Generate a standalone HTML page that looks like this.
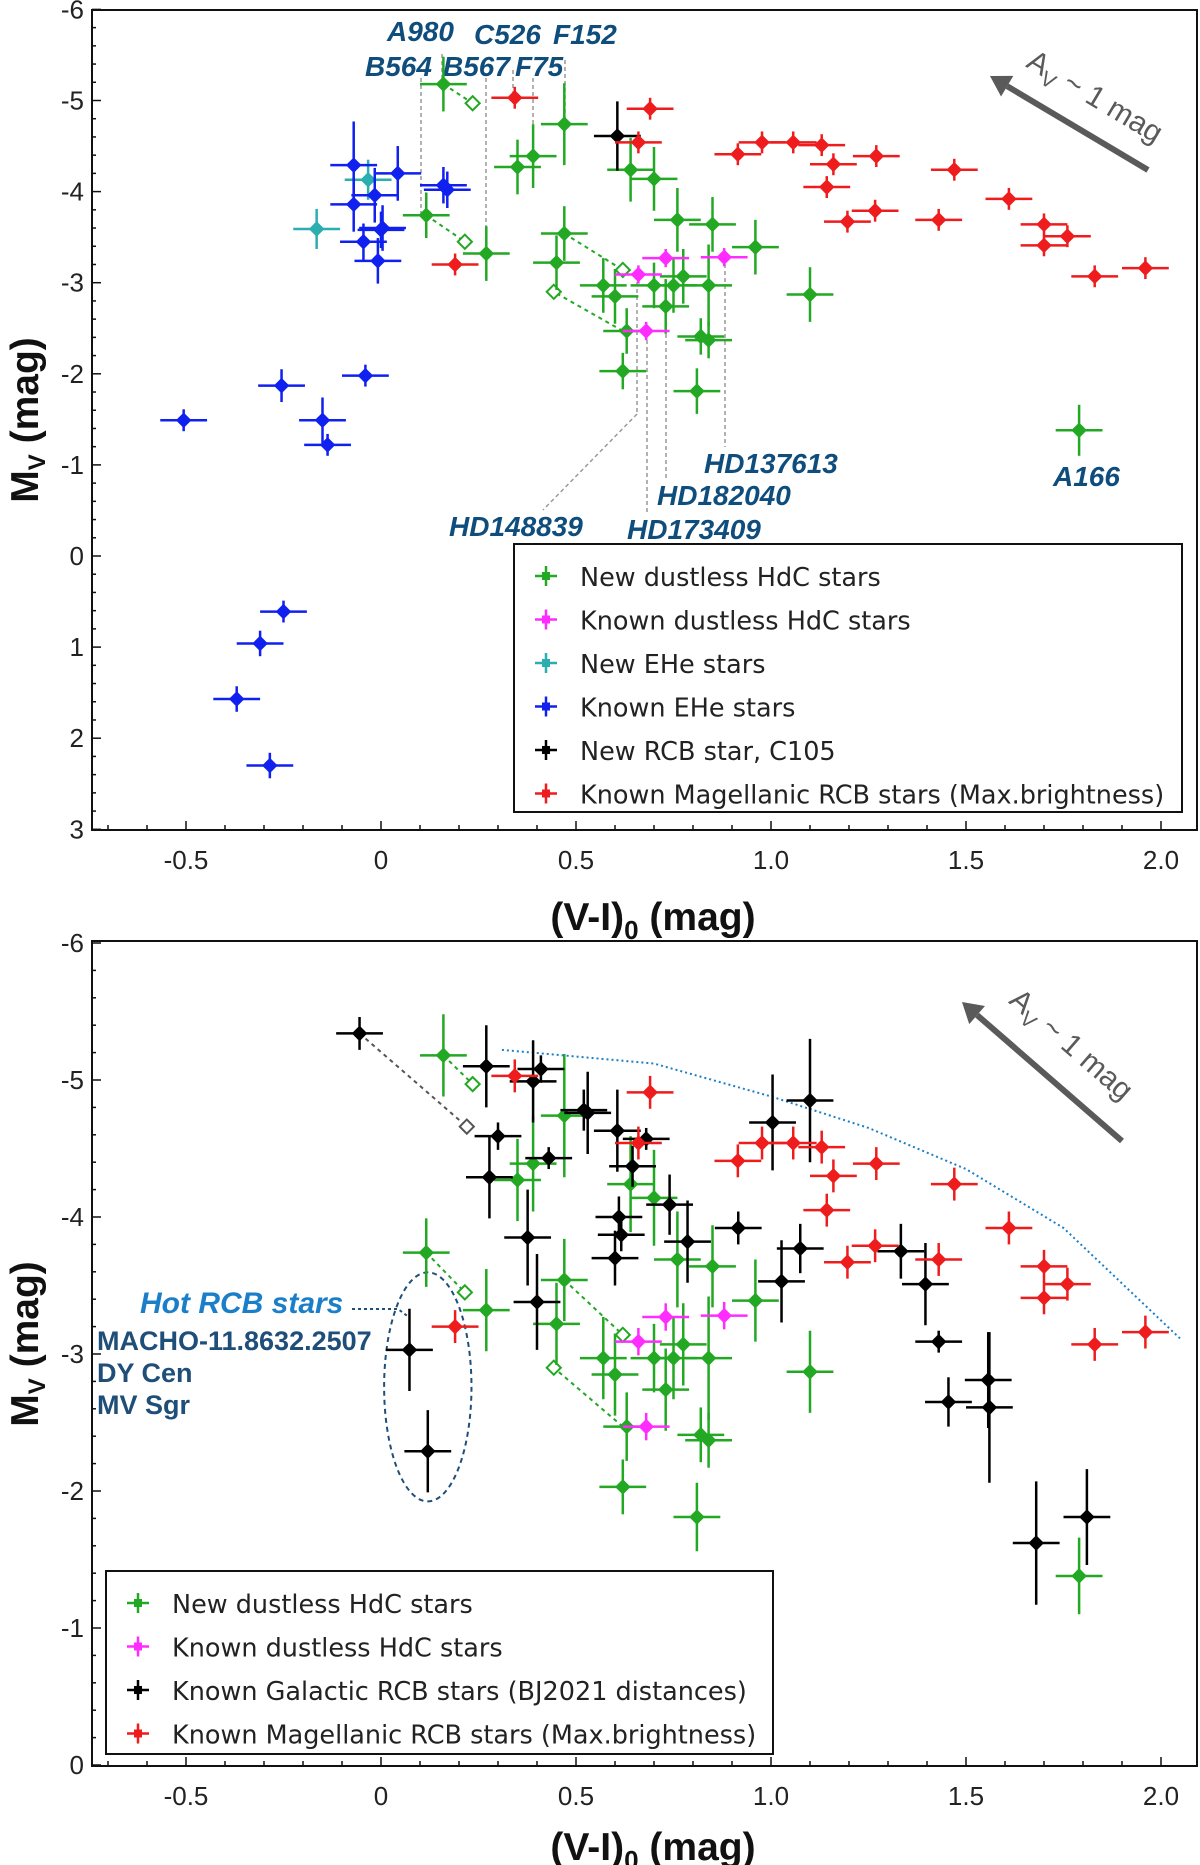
<!DOCTYPE html>
<html><head><meta charset="utf-8">
<style>
html,body{margin:0;padding:0;background:#fff;}
svg{display:block;font-family:"Liberation Sans","DejaVu Sans",sans-serif;}
.tick{font-size:26px;fill:#222;}
.lab{font-size:28px;font-weight:bold;font-style:italic;fill:#0f4d7c;}
.leg{font-size:25.5px;fill:#222;font-family:"DejaVu Sans","Liberation Sans",sans-serif;}
.ttl{font-size:39px;font-weight:bold;fill:#111;}
</style></head>
<body>
<svg id="chart" width="1200" height="1865" viewBox="0 0 1200 1865"></svg>
<script>
// ---- data ----
const greenX=[0.16,0.116,0.27,0.35,0.39,0.47,0.47,0.45,0.64,0.70,0.76,0.85,0.96,0.57,0.60,0.70,0.75,0.775,0.73,0.84,0.63,0.82,0.84,0.62,0.81,1.10,1.79];
const greenY=[-5.18,-3.74,-3.32,-4.27,-4.39,-4.74,-3.54,-3.22,-4.24,-4.14,-3.69,-3.64,-3.39,-2.97,-2.85,-2.97,-2.97,-3.07,-2.74,-2.97,-2.47,-2.41,-2.37,-2.03,-1.81,-2.87,-1.38];
const greenYErr=[0.3,0.25,0.3,0.3,0.35,0.45,0.3,0.3,0.35,0.35,0.35,0.3,0.3,0.3,0.3,0.25,0.3,0.3,0.3,0.45,0.25,0.2,0.2,0.2,0.25,0.3,0.28];
const magX=[0.66,0.73,0.88,0.68];
const magY=[-3.09,-3.27,-3.28,-2.47];
const cyanX=[-0.165,-0.033];
const cyanY=[-3.59,-4.13];
const blueX=[-0.07,-0.016,-0.07,0.043,0.16,0.17,0.004,0.0,-0.045,-0.008,-0.255,-0.04,-0.506,-0.15,-0.137,-0.25,-0.31,-0.37,-0.285];
const blueY=[-4.29,-3.96,-3.86,-4.20,-4.07,-4.02,-3.6,-3.58,-3.45,-3.24,-1.87,-1.98,-1.49,-1.49,-1.22,0.61,0.96,1.57,2.30];
const blueYErr=[0.48,0.3,0.3,0.3,0.2,0.2,0.25,0.2,0.2,0.25,0.18,0.12,0.12,0.25,0.12,0.12,0.14,0.14,0.14];
const c105X=[0.606];
const c105Y=[-4.61];
const redX=[0.343,0.69,0.66,0.915,0.977,1.057,1.13,1.16,1.143,1.27,1.47,1.196,1.267,1.43,1.61,1.70,1.70,1.76,1.83,1.96,0.19];
const redY=[-5.03,-4.91,-4.54,-4.41,-4.54,-4.54,-4.51,-4.30,-4.05,-4.39,-4.24,-3.67,-3.79,-3.69,-3.92,-3.64,-3.41,-3.51,-3.07,-3.16,-3.20];
const galX=[-0.055,0.27,0.39,0.41,0.52,0.53,0.606,0.68,0.645,0.30,0.43,0.278,0.74,0.61,0.616,0.376,0.60,0.786,0.916,1.075,1.004,1.10,1.027,1.333,1.396,1.43,1.455,1.557,1.56,0.40,0.073,0.12,1.68,1.81];
const galY=[-5.34,-5.10,-4.99,-5.08,-4.78,-4.76,-4.63,-4.57,-4.37,-4.59,-4.43,-4.29,-4.09,-4.00,-3.87,-3.85,-3.70,-3.82,-3.92,-3.77,-4.69,-4.85,-3.53,-3.75,-3.51,-3.09,-2.65,-2.81,-2.61,-3.38,-3.03,-2.29,-1.62,-1.81];
const galYErr=[0.12,0.3,0.3,0.1,0.15,0.3,0.3,0.08,0.15,0.1,0.08,0.3,0.22,0.15,0.12,0.35,0.2,0.3,0.12,0.18,0.35,0.45,0.3,0.2,0.3,0.08,0.18,0.35,0.55,0.35,0.3,0.3,0.45,0.35];
const linkFromX=[0.16,0.116,0.47,0.62];
const linkFromY=[-5.18,-3.74,-3.54,-2.47];
const linkToX=[0.235,0.215,0.62,0.443];
const linkToY=[-4.97,-3.45,-3.14,-2.90];
const curveX=[0.31,0.7,1.0,1.25,1.5,1.75,2.05];
const curveY=[-5.22,-5.12,-4.88,-4.65,-4.35,-3.92,-3.11];
const xTicks=[-0.5,0,0.5,1.0,1.5,2.0];
const xTickLabels=["-0.5","0","0.5","1.0","1.5","2.0"];
const yTicksTop=[-6,-5,-4,-3,-2,-1,0,1,2,3];
const yTicksBot=[-6,-5,-4,-3,-2,-1,0];

const C={green:"#22a822",mag:"#ff2cff",cyan:"#2aaeb0",blue:"#1020ee",black:"#000",red:"#ee1c1c"};
const svgRoot=document.getElementById('chart');
const NS="http://www.w3.org/2000/svg";
function mk(tag,attrs,parent){const e=document.createElementNS(NS,tag);for(const k in attrs)e.setAttribute(k,attrs[k]);(parent||svgRoot).appendChild(e);return e;}
function txt(e,parts){parts.forEach(p=>{const t=document.createElementNS(NS,'tspan');if(p.fs)t.setAttribute('font-size',p.fs);if(p.dy)t.setAttribute('dy',p.dy);t.textContent=p.t;e.appendChild(t);});}

function makePanel(p){
  const g=mk('g',{});
  
  
  const X=v=>381+390*v, Y=v=>p.y0+p.k*v;
  const fr=mk('rect',{x:92,y:p.top,width:1105,height:p.bot-p.top,fill:'none',stroke:'#111','stroke-width':2},g);
  
  
  for(let i=-7;i<=20;i++){const v=i/10;const x=X(v);const major=(i%5===0);
    mk('line',{x1:x,x2:x,y1:p.bot,y2:p.bot-(major?9:5),stroke:'#111','stroke-width':1.5},g);}
  xTicks.forEach((v,i)=>{const t=mk('text',{x:X(v),y:p.bot+39,'text-anchor':'middle',class:'tick'},g);t.textContent=xTickLabels[i];
    
    });
  const ymin=p.yt[0],ymax=p.yt[p.yt.length-1];
  for(let i=ymin*5;i<=ymax*5;i++){const y=Y(i/5);const major=(i%5===0);
    mk('line',{x1:92,x2:92+(major?9:4),y1:y,y2:y,stroke:'#111','stroke-width':1.5},g);}
  p.yt.forEach(v=>{const t=mk('text',{x:84,y:Y(v)+9,'text-anchor':'end',class:'tick'},g);t.textContent=String(v);
    
    });
  const xt=mk('text',{x:653,y:p.bot+p.xtOff,'text-anchor':'middle',class:'ttl'},g);
  txt(xt,[{t:'(V-I)'},{t:'0',fs:26,dy:9},{t:' (mag)',dy:-9}]);
  
  
  const yt=mk('text',{x:0,y:0,'text-anchor':'middle',class:'ttl',transform:`translate(38,${p.ylabY}) rotate(-90)`},g);
  txt(yt,[{t:'M'},{t:'V',fs:24,dy:7},{t:' (mag)',dy:-7}]);
  
  
  for(let i=0;i<linkFromX.length;i++){
    const l=mk('line',{x1:X(linkFromX[i]),y1:Y(linkFromY[i]),x2:X(linkToX[i]),y2:Y(linkToY[i]),stroke:C.green,'stroke-width':2,'stroke-dasharray':'4,4'},g);
    
    
    const cx=X(linkToX[i]),cy=Y(linkToY[i]);
    const d=mk('rect',{x:cx-5,y:cy-5,width:10,height:10,fill:'#fff',stroke:C.green,'stroke-width':2,transform:`rotate(45 ${cx} ${cy})`},g);
    
    
  }
  if(p.extra)p.extra(g,X,Y);
  p.series.forEach(s=>{
    for(let i=0;i<s.x.length;i++){
      const cx=X(s.x[i]),cy=Y(s.y[i]);const ye=(s.ye?s.ye[i]:s.yeC)*p.k;const xe=0.06*390;
      const pt=mk('g',{},g);
      
      
      mk('line',{x1:cx-xe,x2:cx+xe,y1:cy,y2:cy,stroke:s.c,'stroke-width':2.5},pt);
      mk('line',{x1:cx,x2:cx,y1:cy-ye,y2:cy+ye,stroke:s.c,'stroke-width':2.5},pt);
      mk('rect',{x:cx-5.5,y:cy-5.5,width:11,height:11,fill:s.c,transform:`rotate(45 ${cx} ${cy})`},pt);
    }
  });
  const lg=mk('g',{},g);
  
  
  mk('rect',{x:p.leg.x,y:p.leg.y,width:p.leg.w,height:p.leg.h,fill:'#fff',stroke:'#111','stroke-width':2},lg);
  p.leg.items.forEach((it,i)=>{
    const y=p.leg.r0+i*p.leg.dr, mx=p.leg.x+32;
    const e=mk('g',{},lg);
    
    
    mk('line',{x1:mx-11,x2:mx+11,y1:y,y2:y,stroke:it[1],'stroke-width':2.5},e);
    mk('line',{x1:mx,x2:mx,y1:y-10,y2:y+10,stroke:it[1],'stroke-width':2.5},e);
    mk('rect',{x:mx-4,y:y-4,width:8,height:8,fill:it[1]},e);
    const t=mk('text',{x:mx+34,y:y+10,class:'leg'},e);t.textContent=it[0];
  });
  const a=p.arrow;
  const ar=mk('g',{},g);
  
  
  const ang=Math.atan2(a.y1-a.y2,a.x1-a.x2);
  const hx=a.x2+20*Math.cos(ang),hy=a.y2+20*Math.sin(ang);
  mk('line',{x1:a.x1,y1:a.y1,x2:hx,y2:hy,stroke:'#5a5a5a','stroke-width':6},ar);
  const px=-Math.sin(ang)*12,py=Math.cos(ang)*12;
  mk('polygon',{points:`${a.x2},${a.y2} ${hx+px},${hy+py} ${hx-px},${hy-py}`,fill:'#5a5a5a'},ar);
  const deg=ang*180/Math.PI;
  const at=mk('text',{x:0,y:0,'font-size':30,fill:'#5a5a5a','text-anchor':'middle',transform:`translate(${a.tx},${a.ty}) rotate(${deg})`},ar);
  txt(at,[{t:'A'},{t:'V',fs:21,dy:7},{t:' ~ 1 mag',dy:-7}]);
}

makePanel({name:'top-panel',top:10,bot:830,y0:556,k:91.1,yt:yTicksTop,ylabY:420,xtOff:100,
  series:[{name:'new-ehe',x:cyanX,y:cyanY,c:C.cyan,yeC:0.22},
          {name:'known-ehe',x:blueX,y:blueY,c:C.blue,ye:blueYErr},
          {name:'new-dustless-hdc',x:greenX,y:greenY,c:C.green,ye:greenYErr},
          {name:'known-dustless-hdc',x:magX,y:magY,c:C.mag,yeC:0.1},
          {name:'new-rcb-c105',x:c105X,y:c105Y,c:C.black,yeC:0.38},
          {name:'magellanic-rcb',x:redX,y:redY,c:C.red,yeC:0.12}],
  leg:{x:514,y:544,w:668,h:268,r0:576,dr:43.5,items:[["New dustless HdC stars",C.green],["Known dustless HdC stars",C.mag],["New EHe stars",C.cyan],["Known EHe stars",C.blue],["New RCB star, C105",C.black],["Known Magellanic RCB stars (Max.brightness)",C.red]]},
  arrow:{x1:1148,y1:170,x2:990,y2:76,tx:1090,ty:105},
  extra:(g)=>{
    const L=[[442,54,442,84],[421,78,421,216],[486,78,486,252],[513,70,513,96],[533,78,533,156],[565,60,565,120],
             [725,257,725,447],[666,306,666,480],[647,333,647,513],[637,275,637,414],[637,414,543,510]];
    L.forEach(l=>{const e=mk('line',{x1:l[0],y1:l[1],x2:l[2],y2:l[3],stroke:'#999','stroke-width':1.5,'stroke-dasharray':'4,3'},g);
      
      });
    const T=[["A980",387,41],["C526",474,44],["F152",553,44],["B564",365,76],["B567",443,76],["F75",515,76],
             ["HD137613",704,473],["HD182040",657,505],["HD148839",449,536],["HD173409",627,539],["A166",1053,486]];
    T.forEach(t=>{const e=mk('text',{x:t[1],y:t[2],class:'lab'},g);e.textContent=t[0];
      
      });
  }});

makePanel({name:'bottom-panel',top:941,bot:1766,y0:1765,k:137,yt:yTicksBot,ylabY:1344,xtOff:94,
  series:[{name:'new-dustless-hdc',x:greenX,y:greenY,c:C.green,ye:greenYErr},
          {name:'known-dustless-hdc',x:magX,y:magY,c:C.mag,yeC:0.1},
          {name:'galactic-rcb',x:galX,y:galY,c:C.black,ye:galYErr},
          {name:'magellanic-rcb',x:redX,y:redY,c:C.red,yeC:0.12}],
  leg:{x:106,y:1571,w:667,h:183,r0:1603,dr:43.5,items:[["New dustless HdC stars",C.green],["Known dustless HdC stars",C.mag],["Known Galactic RCB stars (BJ2021 distances)",C.black],["Known Magellanic RCB stars (Max.brightness)",C.red]]},
  arrow:{x1:1122,y1:1141,x2:962,y2:1002,tx:1065,ty:1052},
  extra:(g,X,Y)=>{
    const l=mk('line',{x1:X(-0.055),y1:Y(-5.34),x2:X(0.22),y2:Y(-4.66),stroke:'#555','stroke-width':2,'stroke-dasharray':'4,4'},g);
    
    
    const cx=X(0.22),cy=Y(-4.66);
    mk('rect',{x:cx-5,y:cy-5,width:10,height:10,fill:'#fff',stroke:'#555','stroke-width':2,transform:`rotate(45 ${cx} ${cy})`},g);
    let d='';curveX.forEach((v,i)=>{d+=(i?'L':'M')+X(v)+','+Y(curveY[i]);});
    const c=mk('path',{d:d,fill:'none',stroke:'#1a7fc8','stroke-width':2,'stroke-dasharray':'2,3'},g);
    
    
    const el=mk('ellipse',{cx:X(0.12),cy:Y(-2.76),rx:0.112*390,ry:0.836*137,fill:'none',stroke:'#1f4e79','stroke-width':2,'stroke-dasharray':'5,4'},g);
    
    
    mk('path',{d:'M352,1309 L398,1309 L410,1318',fill:'none',stroke:'#1f4e79','stroke-width':2,'stroke-dasharray':'3,3'},g);
    const h=mk('text',{x:140,y:1313,'font-size':30,'font-weight':'bold','font-style':'italic',fill:'#1a7fc8'},g);h.textContent='Hot RCB stars';
    
    
    [["MACHO-11.8632.2507",1350],["DY Cen",1382],["MV Sgr",1414]].forEach(t=>{
      const e=mk('text',{x:97,y:t[1],'font-size':27,'font-weight':'bold',fill:'#1f4e79'},g);e.textContent=t[0];
      
      });
  }});
</script>
</body></html>
